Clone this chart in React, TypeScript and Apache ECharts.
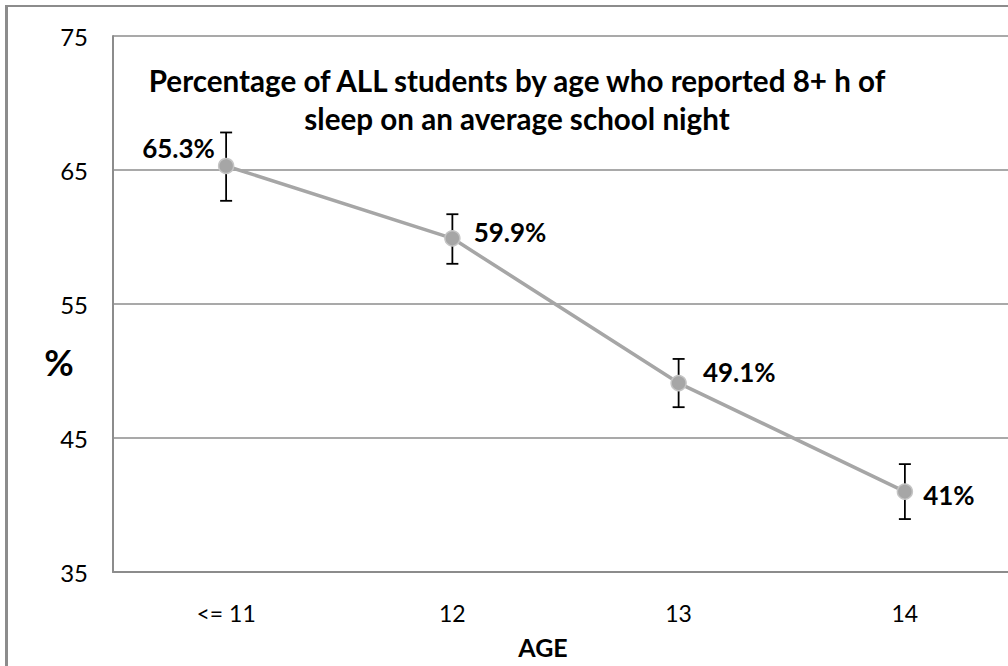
import React, { useEffect, useRef } from "react";
import * as echarts from "echarts";

const categories = ["<= 11", "12", "13", "14"];
const values = [65.3, 59.9, 49.1, 41];
const labels = ["65.3%", "59.9%", "49.1%", "41%"];
const errLow = [62.7, 58.0, 47.3, 38.95];
const errHigh = [67.8, 61.7, 50.9, 43.05];
const yTicks = { min: 35, max: 75, interval: 10 };

const FONT = "Lato, 'Open Sans', sans-serif";
const labelPlacement: any[] = [
  { position: "left", offset: [2, -18] },
  { position: "right", offset: [8, -6] },
  { position: "right", offset: [11, -11] },
  { position: "right", offset: [5, 3] },
];

export default function App() {
  const ref = useRef<HTMLDivElement>(null);
  useEffect(() => {
    if (!ref.current) return;
    const chart = echarts.init(ref.current, null, { renderer: "svg" });
    const option: any = {
      animation: false,
      backgroundColor: "#ffffff",
      grid: { left: 113, right: 0, top: 36, bottom: 94, containLabel: false },
      xAxis: {
        type: "category",
        data: categories,
        boundaryGap: true,
        axisLine: { show: true, lineStyle: { color: "#8c8c8c", width: 2 } },
        axisTick: { show: false },
        axisLabel: { color: "#000", fontSize: 23, fontFamily: FONT, margin: 29 },
      },
      yAxis: {
        type: "value",
        min: yTicks.min,
        max: yTicks.max,
        interval: yTicks.interval,
        axisLine: { show: true, lineStyle: { color: "#8c8c8c", width: 2 } },
        axisTick: { show: false },
        splitLine: { show: true, lineStyle: { color: "#8c8c8c", width: 1.6 } },
        axisLabel: { color: "#000", fontSize: 24, fontFamily: FONT, margin: 25 },
      },
      graphic: [
        { type: "line", shape: { x1: 6.5, y1: 6, x2: 6.5, y2: 666 }, style: { stroke: "#8c8c8c", lineWidth: 3 } },
        { type: "line", shape: { x1: 5, y1: 6, x2: 1018, y2: 6 }, style: { stroke: "#8c8c8c", lineWidth: 2 } },
        {
          type: "text",
          x: 517,
          y: 99,
          style: {
            text: "Percentage of ALL students by age who reported 8+ h of\nsleep on an average school night",
            fontFamily: FONT,
            fontWeight: "bold",
            fontSize: 29.6,
            lineHeight: 38,
            fill: "#000",
            align: "center",
            verticalAlign: "middle",
          },
        },
        {
          type: "text",
          x: 59,
          y: 362,
          style: { text: "%", fontFamily: FONT, fontWeight: "bold", fontSize: 36, fill: "#000", align: "center", verticalAlign: "middle" },
        },
        {
          type: "text",
          x: 543,
          y: 647,
          style: { text: "AGE", fontFamily: FONT, fontWeight: "bold", fontSize: 25, fill: "#000", align: "center", verticalAlign: "middle" },
        },
      ],
      series: [
        {
          type: "line",
          data: values.map((v, i) => ({
            value: v,
            label: {
              show: true,
              formatter: labels[i],
              position: labelPlacement[i].position,
              offset: labelPlacement[i].offset,
              fontFamily: FONT,
              fontWeight: "bold",
              fontSize: 26,
              color: "#000",
            },
          })),
          lineStyle: { color: "#a6a6a6", width: 3.5 },
          symbol: "circle",
          symbolSize: 15,
          itemStyle: { color: "#a6a6a6", borderColor: "#c4c4c4", borderWidth: 1.5 },
          z: 3,
        },
        {
          type: "custom",
          data: categories.map((_, i) => [i, errLow[i], errHigh[i]]),
          renderItem: (params: any, api: any) => {
            const x = api.value(0);
            const lo = api.coord([x, api.value(1)]);
            const hi = api.coord([x, api.value(2)]);
            const w = 6;
            const st = { stroke: "#000", lineWidth: 1.8 };
            return {
              type: "group",
              children: [
                { type: "line", shape: { x1: lo[0], y1: lo[1], x2: hi[0], y2: hi[1] }, style: st },
                { type: "line", shape: { x1: hi[0] - w, y1: hi[1], x2: hi[0] + w, y2: hi[1] }, style: st },
                { type: "line", shape: { x1: lo[0] - w, y1: lo[1], x2: lo[0] + w, y2: lo[1] }, style: st },
              ],
            };
          },
          z: 2,
        },
      ],
    };
    chart.setOption(option);
    return () => chart.dispose();
  }, []);
  return (
    <div style={{ position: "fixed", left: 0, top: 0, width: 1008, height: 666, overflow: "hidden", background: "#fff" }}>
      <div ref={ref} style={{ position: "absolute", left: 0, top: 0, width: 1018, height: 666 }} />
    </div>
  );
}
